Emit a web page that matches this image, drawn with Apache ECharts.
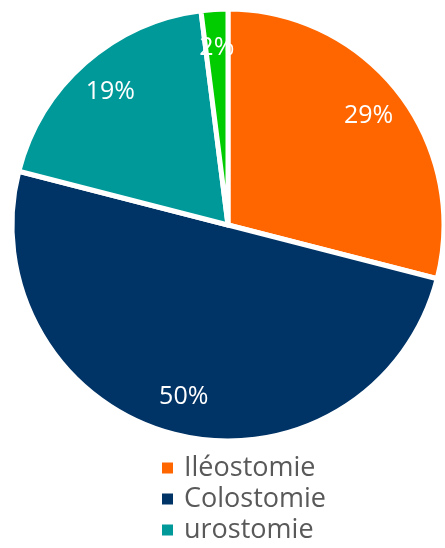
<!DOCTYPE html>
<html>
<head>
<meta charset="utf-8">
<script src="https://cdn.jsdelivr.net/npm/echarts@6/dist/echarts.min.js"></script>
<style>
  html, body { margin: 0; padding: 0; background: #fff; }
  #chart { width: 445px; height: 548px; }
</style>
</head>
<body>
<div id="chart"></div>
<script>
// Répartition des stomies (%)
const categories = ['Iléostomie', 'Colostomie', 'urostomie', 'autre'];
const values = [29, 50, 19, 2];
const colors = ['#FF6600', '#003366', '#009999', '#00CC00'];
const legendItems = ['Iléostomie', 'Colostomie', 'urostomie'];

const data = categories.map((name, i) => ({
  name,
  value: values[i],
  itemStyle: { color: colors[i] }
}));

const center = [228, 225];
const radius = 216;
const fontFamily = '"Open Sans", "Liberation Sans", sans-serif';

const chart = echarts.init(document.getElementById('chart'), null, { renderer: 'canvas' });
chart.setOption({
  animation: false,
  legend: {
    orient: 'vertical',
    left: 160,
    top: 453,
    height: 110,
    data: legendItems,
    icon: 'rect',
    itemWidth: 13,
    itemHeight: 13,
    itemGap: 1,
    padding: 0,
    textStyle: { fontFamily, fontSize: 27, color: '#595959', lineHeight: 30, padding: [0, 0, 0, 5] }
  },
  series: [
    {
      type: 'pie',
      center,
      radius: [0, radius],
      startAngle: 90,
      clockwise: true,
      data,
      label: { show: false },
      labelLine: { show: false },
      itemStyle: { borderColor: '#ffffff', borderWidth: 5 },
      emphasis: { disabled: true }
    },
    {
      // transparent ring that carries the percentage labels near the rim
      type: 'pie',
      center,
      radius: [radius * 0.62, radius],
      startAngle: 90,
      clockwise: true,
      silent: true,
      data: data.map(d => ({ name: d.name, value: d.value })),
      itemStyle: { color: 'rgba(0,0,0,0)', borderWidth: 0 },
      label: {
        show: true,
        position: 'inside',
        formatter: p => Math.round(p.value) + '%',
        color: '#ffffff',
        fontFamily,
        fontSize: 25
      },
      labelLine: { show: false },
      emphasis: { disabled: true }
    }
  ]
});
</script>
</body>
</html>
